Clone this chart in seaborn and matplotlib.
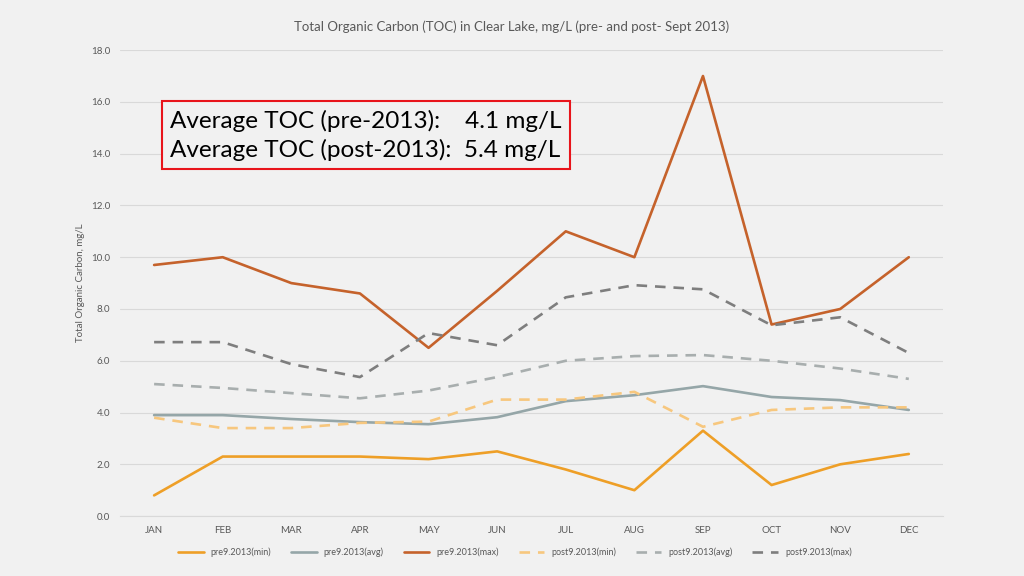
import pandas as pd
import matplotlib.pyplot as plt
import seaborn as sns

# datos
months = ['JAN', 'FEB', 'MAR', 'APR', 'MAY', 'JUN', 'JUL', 'AUG', 'SEP', 'OCT', 'NOV', 'DEC']
pre_min = [0.8, 2.3, 2.3, 2.3, 2.2, 2.5, 1.8, 1.0, 3.3, 1.2, 2.0, 2.4]
pre_avg = [3.9, 3.9, 3.75, 3.63, 3.55, 3.82, 4.44, 4.67, 5.02, 4.6, 4.48, 4.1]
pre_max = [9.7, 10.0, 9.0, 8.6, 6.5, 8.7, 11.0, 10.0, 17.0, 7.4, 8.0, 10.0]
post_min = [3.8, 3.4, 3.4, 3.6, 3.65, 4.5, 4.5, 4.8, 3.45, 4.1, 4.2, 4.2]
post_avg = [5.1, 4.95, 4.75, 4.55, 4.85, 5.37, 6.0, 6.18, 6.22, 6.0, 5.7, 5.3]
post_max = [6.72, 6.72, 5.87, 5.37, 7.07, 6.6, 8.45, 8.92, 8.76, 7.37, 7.68, 6.3]

series = {
    'pre9.2013(min)': pre_min,
    'pre9.2013(avg)': pre_avg,
    'pre9.2013(max)': pre_max,
    'post9.2013(min)': post_min,
    'post9.2013(avg)': post_avg,
    'post9.2013(max)': post_max,
}
colors = ['#EE9F27', '#95A6A8', '#C5622B', '#F7C77E', '#A8AEAE', '#7E7E7E']
dashed = [False, False, False, True, True, True]

df = pd.DataFrame({'Mes': months, **series})
df['x'] = range(len(months))

sns.set_style('white')
plt.rcParams['font.family'] = ['Lato', 'DejaVu Sans']
bg = '#F1F1F1'

fig = plt.figure(figsize=(10.24, 5.76), dpi=100, facecolor=bg)
ax = fig.add_axes([0.117, 0.104, 0.804, 0.809], facecolor=bg)

for (name, col), c, d in zip(series.items(), colors, dashed):
    sns.lineplot(x='x', y=name, data=df, ax=ax, color=c, linewidth=1.9, label=name,
                 linestyle=(0, (4, 3)) if d else '-')

ax.set_xlim(-0.5, 11.5)
ax.set_ylim(0, 18)
ax.set_xticks(range(len(months)))
ax.set_xticklabels(months)
ax.set_yticks([0, 2, 4, 6, 8, 10, 12, 14, 16, 18])
ax.set_yticklabels([f'{v:.1f}' for v in ax.get_yticks()])
ax.tick_params(axis='both', length=0, labelsize=7, colors='#595959', pad=7)
ax.grid(axis='y', color='#D9D9D9', linewidth=0.8)
for s in ['top', 'right', 'left']:
    ax.spines[s].set_visible(False)
ax.spines['bottom'].set_color('#D9D9D9')
ax.set_xlabel('')
ax.set_ylabel('Total Organic Carbon, mg/L', fontsize=7, color='#595959')

fig.suptitle('Total Organic Carbon (TOC) in Clear Lake, mg/L (pre- and post- Sept 2013)',
             fontsize=9.5, color='#595959', y=0.965)

ax.text(0.061, 0.872,
        'Average TOC (pre-2013):    4.1 mg/L\nAverage TOC (post-2013):  5.4 mg/L',
        transform=ax.transAxes, fontsize=17.5, color='black', va='top', linespacing=1.38,
        bbox=dict(boxstyle='square,pad=0.35', facecolor=bg, edgecolor='#E8141B', linewidth=1.5))

ax.legend(loc='upper center', bbox_to_anchor=(0.48, -0.05), ncol=6, frameon=False,
          fontsize=6.5, handlelength=2.8, columnspacing=2.2, labelcolor='#595959')

plt.savefig('out.png', dpi=100, facecolor=bg)
